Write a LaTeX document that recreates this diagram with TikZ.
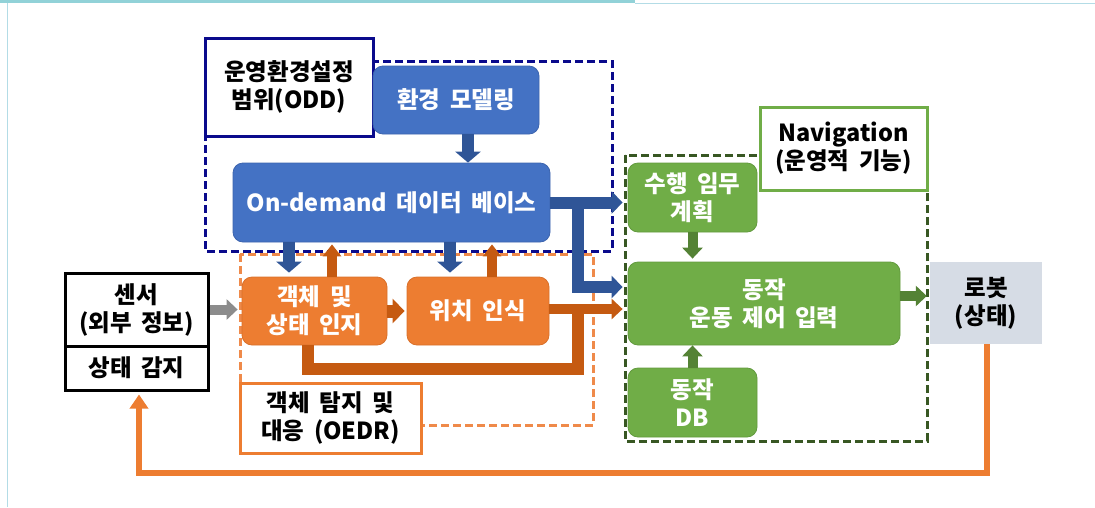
\documentclass[tikz,border=0pt]{standalone}
\usepackage{fontspec}
\setmainfont{Noto Sans CJK KR}[WordSpace=1.8]
\usetikzlibrary{arrows.meta,calc}

\definecolor{boxblue}{HTML}{4472C4}
\definecolor{edgeblue}{HTML}{3C64AE}
\definecolor{arrblue}{HTML}{2F5597}
\definecolor{navy}{HTML}{0A0A8C}
\definecolor{boxorange}{HTML}{ED7D31}
\definecolor{edgeorange}{HTML}{D9702A}
\definecolor{arrorange}{HTML}{C55A11}
\definecolor{dashorange}{HTML}{EF8A4A}
\definecolor{boxgreen}{HTML}{70AD47}
\definecolor{edgegreen}{HTML}{629A3E}
\definecolor{arrgreen}{HTML}{548235}
\definecolor{dashgreen}{HTML}{385723}
\definecolor{arrgray}{HTML}{8C8C8C}
\definecolor{robotfill}{HTML}{D6DCE5}
\definecolor{topbar}{HTML}{92D2D8}
\definecolor{frameline}{HTML}{B3DCE6}

\begin{document}
\begin{tikzpicture}[x=1pt,y=-1pt,
  txt/.style={font=\bfseries\fontsize{23.5}{28}\selectfont, align=center, inner sep=0pt},
  solidbox/.style={txt, rounded corners=10pt, text=white, line width=0.8pt},
  bluebox/.style={solidbox, fill=boxblue, draw=edgeblue},
  orangebox/.style={solidbox, fill=boxorange, draw=edgeorange},
  greenbox/.style={solidbox, fill=boxgreen, draw=edgegreen},
  labelbox/.style={txt, fill=white, text=black, line width=3pt},
  groupframe/.style={line width=3pt, dash pattern=on 8pt off 4pt},
  bluearr/.style={arrblue, line width=12pt, -{Triangle[width=25pt,length=11pt]}},
  bluearrh/.style={arrblue, line width=12pt, -{Triangle[width=22pt,length=11pt]}},
  orangeup/.style={arrorange, line width=10pt, -{Triangle[width=18pt,length=12pt]}},
  orangearr/.style={arrorange, line width=10pt, -{Triangle[width=20pt,length=11pt]}},
  greenarr/.style={arrgreen, line width=10pt, -{Triangle[width=20pt,length=11pt]}},
  grayarr/.style={arrgray, line width=10pt, -{Triangle[width=20pt,length=11pt]}},
  feedback/.style={boxorange, line width=6pt, -{Triangle[width=18pt,length=14pt]}}
]
\useasboundingbox (0,0) rectangle (1095,507);

% page decorations
\fill[topbar] (0,0) rectangle (635,3);
\draw[frameline, line width=1pt] (635,3.5) -- (1095,3.5);
\draw[frameline, line width=1pt] (7,3) -- (7,507);

% group frames
\draw[groupframe, navy] (205,61) rectangle (612,251);
\draw[groupframe, dashorange] (240,254) rectangle (593,425);
\draw[groupframe, dashgreen] (625,155) rectangle (927,441);

% group labels
\node[labelbox, draw=navy, minimum width=168pt, minimum height=98pt] (oddlabel) at (289,87) {운영환경설정\\범위(ODD)};
\node[labelbox, draw=boxorange, minimum width=181pt, minimum height=70pt] (oedrlabel) at (330.5,418) {객체 탐지 및\\대응 (OEDR)};
\node[labelbox, draw=boxgreen, minimum width=167pt, minimum height=83pt] (navlabel) at (843.5,148.5) {Navigation\\(운영적 기능)};

% ODD blocks
\node[bluebox, minimum width=166pt, minimum height=68pt] (env) at (456,100) {환경 모델링};
\node[bluebox, minimum width=317pt, minimum height=79pt] (ondemand) at (391.5,202.5) {On-demand 데이터 베이스};

% OEDR blocks
\node[orangebox, minimum width=145pt, minimum height=68pt] (obj) at (314.5,311) {객체 및\\상태 인지};
\node[orangebox, minimum width=142pt, minimum height=68pt] (loc) at (478,311) {위치 인식};

% sensors
\node[txt, draw=black, line width=3pt, fill=white, minimum width=143pt, minimum height=73pt] (sensor) at (136.5,309.5) {센서\\(외부 정보)};
\node[txt, draw=black, line width=3pt, fill=white, minimum width=143pt, minimum height=44pt] (state) at (136.5,368) {상태 감지};

% navigation blocks
\node[greenbox, minimum width=129pt, minimum height=69pt] (plan) at (692.5,197.5) {수행 임무\\계획};
\node[greenbox, minimum width=272pt, minimum height=83pt] (motion) at (764,303.5) {동작\\운동 제어 입력};
\node[greenbox, minimum width=129pt, minimum height=69pt] (db) at (692.5,402.5) {동작\\DB};

% robot
\node[txt, fill=robotfill, minimum width=112pt, minimum height=82pt] (robot) at (986,303) {로봇\\(상태)};

% helper coordinates for bends and offsets
\coordinate (e1) at ($(env.south)+(12,0)$);
\coordinate (d1) at (289,0);
\coordinate (d2) at (450,0);
\coordinate (u1) at (332,0);
\coordinate (u2) at (492,0);
\coordinate (bc) at (578,287);
\coordinate (l1) at (308,369);
\coordinate (l2) at (578,369);
\coordinate (mr) at (900,296);
\coordinate (fb) at (987,473);
\coordinate (fbl) at (139,473);

% ODD connectors
\draw[bluearr] (e1) -- (e1 |- ondemand.north);
\draw[bluearr, shorten >=4pt] (d1 |- ondemand.south) -- (d1 |- obj.north);
\draw[bluearr, shorten >=4pt] (d2 |- ondemand.south) -- (d2 |- loc.north);
\draw[bluearrh, shorten >=5pt] (ondemand.east) -- (ondemand.east -| plan.west);
\draw[bluearrh, shorten >=5pt] (bc |- ondemand.east) -- (bc) -- (bc -| motion.west);

% OEDR connectors
\draw[orangeup, shorten >=2pt] (u1 |- obj.north) -- (u1 |- ondemand.south);
\draw[orangeup, shorten >=2pt] (u2 |- loc.north) -- (u2 |- ondemand.south);
\draw[arrorange, line width=12pt, line join=miter] (l1 |- obj.south) -- (l1) -- (l2) -- ($(l2 |- loc.east)+(0,-2)$);
\draw[arrorange, line width=13pt, -{Triangle[width=24pt,length=12pt]}, shorten >=2pt] (obj.east) -- (loc.west);
\draw[orangearr, shorten >=5pt] ($(loc.east)+(0,-2)$) -- ($(loc.east -| motion.west)+(0,-2)$);

% sensor input
\draw[grayarr, shorten >=4pt] (sensor.east) -- (sensor.east -| obj.west);

% navigation connectors
\draw[greenarr, shorten >=3pt] (plan.south) -- (plan.south |- motion.north);
\draw[greenarr] (db.north) -- (db.north |- motion.south);
\draw[greenarr, shorten >=3pt] (mr) -- (mr -| robot.west);

% robot state feedback
\draw[feedback, shorten >=3pt] (fb |- robot.south) -- (fb) -- (fbl) -- (fbl |- state.south);
\end{tikzpicture}
\end{document}
